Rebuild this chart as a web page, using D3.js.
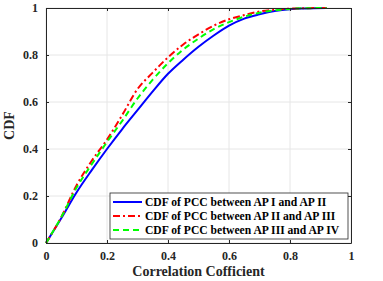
<!DOCTYPE html>
<html>
<head>
<meta charset="utf-8">
<script src="https://cdn.jsdelivr.net/npm/d3@7"></script>
<style>
  body { margin: 0; background: #fff; }
  svg text { font-family: "Liberation Serif", "Times New Roman", serif; font-weight: bold; }
</style>
</head>
<body>
<svg id="chart" width="383" height="281"></svg>
<script>
'use strict';

const xTicks = [0, 0.2, 0.4, 0.6, 0.8, 1];
const yTicks = [0, 0.2, 0.4, 0.6, 0.8, 1];

const pccX = [0, 0.05, 0.1, 0.15, 0.2, 0.25, 0.3, 0.35, 0.4, 0.45, 0.5, 0.55, 0.6, 0.65, 0.7, 0.75, 0.8, 0.85, 0.92];
const cdfAP12 = [0, 0.105, 0.215, 0.31, 0.40, 0.485, 0.565, 0.645, 0.72, 0.78, 0.835, 0.883, 0.925, 0.955, 0.973, 0.987, 0.995, 0.998, 1];
const cdfAP23 = [0, 0.11, 0.245, 0.35, 0.44, 0.545, 0.655, 0.725, 0.79, 0.845, 0.888, 0.925, 0.952, 0.97, 0.985, 0.993, 0.997, 0.999, 1];
const cdfAP34 = [0, 0.11, 0.235, 0.335, 0.43, 0.52, 0.615, 0.695, 0.765, 0.823, 0.87, 0.91, 0.94, 0.963, 0.98, 0.99, 0.996, 0.999, 1];

const seriesNames = [
  'CDF of PCC between AP I and AP II',
  'CDF of PCC between AP II and AP III',
  'CDF of PCC between AP III and AP IV',
];

const SERIES_STYLE = [
  { color: '#0000ff', dash: null },
  { color: '#ff0000', dash: '7 3 2 3' },
  { color: '#00ff00', dash: '6 4' },
];

const margin = { left: 46, right: 32, top: 8, bottom: 38 };
const W = 383, H = 281;
const svg = d3.select('#chart');

const x = d3.scaleLinear().domain([0, 1]).range([margin.left, W - margin.right]);
const y = d3.scaleLinear().domain([0, 1]).range([H - margin.bottom, margin.top]);

// grid
const grid = svg.append('g');
grid.selectAll('.gx').data(xTicks).enter().append('line')
  .attr('x1', d => x(d)).attr('x2', d => x(d))
  .attr('y1', y(0)).attr('y2', y(1))
  .attr('stroke', '#e6e6e6').attr('stroke-width', 1);
grid.selectAll('.gy').data(yTicks).enter().append('line')
  .attr('x1', x(0)).attr('x2', x(1))
  .attr('y1', d => y(d)).attr('y2', d => y(d))
  .attr('stroke', '#e6e6e6').attr('stroke-width', 1);

// curves
const line = d3.line().x(d => x(d[0])).y(d => y(d[1])).curve(d3.curveMonotoneX);
[cdfAP12, cdfAP23, cdfAP34].forEach((vals, i) => {
  svg.append('path')
    .datum(pccX.map((v, j) => [v, vals[j]]))
    .attr('d', line)
    .attr('fill', 'none')
    .attr('stroke', SERIES_STYLE[i].color)
    .attr('stroke-width', 2)
    .attr('stroke-dasharray', SERIES_STYLE[i].dash);
});

// axes (box style)
const axisColor = '#262626';
function styleAxis(g) {
  g.select('.domain').attr('stroke', axisColor);
  g.selectAll('.tick line').attr('stroke', axisColor);
  g.selectAll('.tick text').attr('fill', '#262626').attr('font-size', 12);
}
svg.append('g').attr('transform', `translate(0,${y(0)})`)
  .call(d3.axisBottom(x).tickValues(xTicks).tickFormat(d3.format('')).tickSizeInner(-3).tickSizeOuter(0).tickPadding(8))
  .call(styleAxis);
svg.append('g').attr('transform', `translate(${x(0)},0)`)
  .call(d3.axisLeft(y).tickValues(yTicks).tickFormat(d3.format('')).tickSizeInner(-3).tickSizeOuter(0).tickPadding(8))
  .call(styleAxis);
svg.append('g').attr('transform', `translate(0,${y(1)})`)
  .call(d3.axisTop(x).tickValues(xTicks).tickFormat('').tickSizeInner(-3).tickSizeOuter(0))
  .call(styleAxis);
svg.append('g').attr('transform', `translate(${x(1)},0)`)
  .call(d3.axisRight(y).tickValues(yTicks).tickFormat('').tickSizeInner(-3).tickSizeOuter(0))
  .call(styleAxis);

// axis labels
svg.append('text')
  .attr('x', (x(0) + x(1)) / 2).attr('y', 276)
  .attr('text-anchor', 'middle').attr('font-size', 14).attr('fill', '#262626')
  .text('Correlation Cofficient');
svg.append('text')
  .attr('transform', `translate(14,${(y(0) + y(1)) / 2}) rotate(-90)`)
  .attr('text-anchor', 'middle').attr('font-size', 14).attr('fill', '#262626')
  .text('CDF');

// legend
const legend = svg.append('g').attr('transform', 'translate(110,193)');
legend.append('rect')
  .attr('width', 238).attr('height', 46)
  .attr('fill', '#fff').attr('stroke', axisColor).attr('stroke-width', 0.8);
seriesNames.forEach((name, i) => {
  const cy = 9 + i * 14;
  legend.append('line')
    .attr('x1', 3).attr('x2', 32).attr('y1', cy).attr('y2', cy)
    .attr('stroke', SERIES_STYLE[i].color).attr('stroke-width', 2)
    .attr('stroke-dasharray', SERIES_STYLE[i].dash);
  legend.append('text')
    .attr('x', 35).attr('y', cy + 4)
    .attr('font-size', 11.6).attr('fill', '#000')
    .text(name);
});
</script>
</body>
</html>
